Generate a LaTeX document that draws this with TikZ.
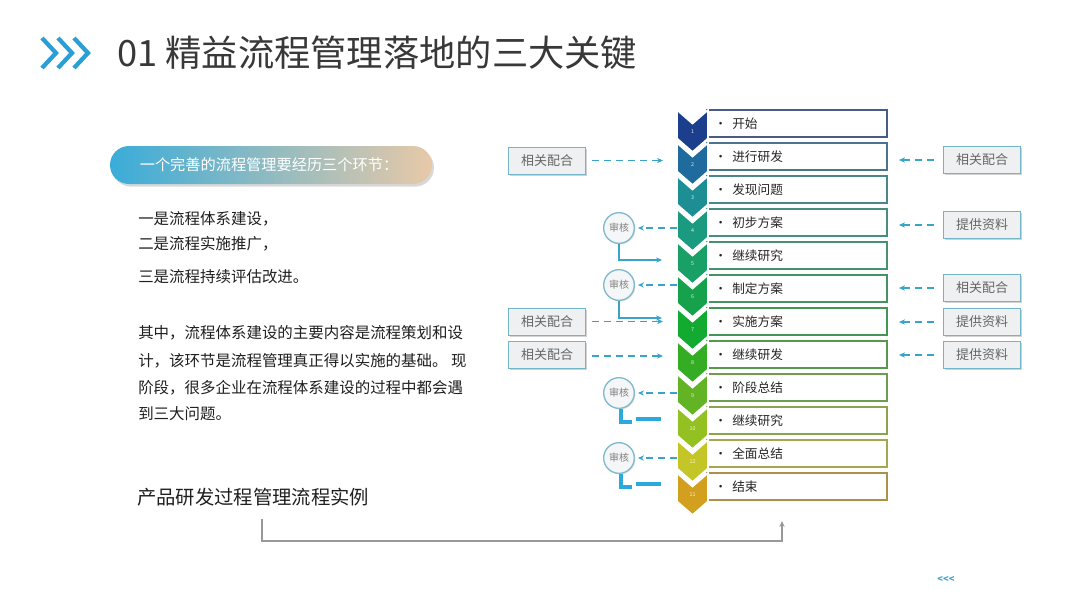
\documentclass[tikz,border=0pt]{standalone}
\usepackage{fontspec}
\setmainfont{Noto Sans CJK SC}
\usetikzlibrary{calc,shadows,arrows.meta}
\definecolor{c1}{HTML}{1B3F8C}
\definecolor{c2}{HTML}{1F6B9E}
\definecolor{c3}{HTML}{1D8E94}
\definecolor{c4}{HTML}{1A9A7E}
\definecolor{c5}{HTML}{18A066}
\definecolor{c6}{HTML}{16A24C}
\definecolor{c7}{HTML}{12AA30}
\definecolor{c8}{HTML}{34AD24}
\definecolor{c9}{HTML}{62B424}
\definecolor{c10}{HTML}{93C122}
\definecolor{c11}{HTML}{C4C526}
\definecolor{c12}{HTML}{D29F1E}
\definecolor{tealarrow}{HTML}{3AA3C9}
\definecolor{iconblue}{HTML}{2A9FD6}
\definecolor{sidefill}{HTML}{EEF0F2}
\definecolor{sideedge}{HTML}{72B4C8}
\definecolor{pillL}{HTML}{3AACD9}
\definecolor{pillR}{HTML}{E8C9A8}
\definecolor{lcyan}{HTML}{2BA9DA}
\tikzset{
  rowbox/.style={draw, fill=white, minimum width=135pt, minimum height=20.25pt, inner sep=0pt, line width=0.9pt,
    drop shadow={shadow xshift=0.8pt, shadow yshift=-0.8pt, opacity=0.2}},
  rowtext/.style={anchor=west, inner sep=0pt, font=\fontsize{9.5}{11}\selectfont, text=black!85},
  sidebox/.style={draw=sideedge, fill=sidefill, minimum width=57.75pt, minimum height=20.25pt, inner sep=0pt, line width=0.6pt,
    font=\fontsize{9.75}{11}\selectfont, text=black!60,
    drop shadow={shadow xshift=1.2pt, shadow yshift=-1.2pt, opacity=0.35}},
  audit/.style={circle, draw=sideedge!90, fill=sidefill!60, minimum size=23pt, inner sep=0pt, line width=1pt,
    font=\fontsize{7.5}{9}\selectfont, text=black!50,
    drop shadow={shadow xshift=0.8pt, shadow yshift=-0.8pt, opacity=0.25}},
  dasharrow/.style={draw=tealarrow, line width=0.9pt, dash pattern=on 5.5pt off 3.5pt, -{Stealth[length=4.5pt,width=4pt]}},
  solidarrow/.style={draw=tealarrow, line width=0.9pt, -{Stealth[length=4.5pt,width=4pt]}},
  bigL/.style={draw=lcyan, line width=2.4pt},
  bodytext/.style={anchor=west, inner sep=0pt, font=\fontsize{11.6}{14}\selectfont, text=black!88},
}
\begin{document}
\begin{tikzpicture}[x=0.75pt, y=-0.75pt]
\useasboundingbox (0,0) rectangle (1080,608);
\fill[white] (0,0) rectangle (1080,608);

% title icon
\foreach \x in {42,58,74}{
  \draw[iconblue, line width=3.2pt, line cap=butt, line join=miter] (\x,38) -- (\x+14,53) -- (\x,68);
}
\node[anchor=west, inner sep=0pt, font=\fontsize{27.2}{31}\selectfont, text=black!78] (title) at (117,53) {01 精益流程管理落地的三大关键};

% pill
\node[rounded corners=14.25pt, minimum width=241.5pt, minimum height=28.5pt, inner sep=0pt,
  left color=pillL, right color=pillR,
  drop shadow={shadow xshift=1.5pt, shadow yshift=-2pt, opacity=0.3}] (pill) at (271,165) {};
\node[inner sep=0pt, font=\fontsize{11.4}{13}\selectfont, text=white] (pilltext) at (269,165) {一个完善的流程管理要经历三个环节：};

% left text
\node[bodytext] (l1) at (138,219) {一是流程体系建设，};
\node[bodytext] (l2) at (138,244) {二是流程实施推广，};
\node[bodytext] (l3) at (138,277) {三是流程持续评估改进。};
\node[bodytext] (p1) at (138,333) {其中，流程体系建设的主要内容是流程策划和设};
\node[bodytext] (p2) at (138,361) {计，该环节是流程管理真正得以实施的基础。 现};
\node[bodytext] (p3) at (138,388) {阶段，很多企业在流程体系建设的过程中都会遇};
\node[bodytext] (p4) at (138,414) {到三大问题。};
\node[anchor=west, inner sep=0pt, font=\fontsize{14.5}{17}\selectfont, text=black!88] (example) at (137,497) {产品研发过程管理流程实例};

% rows: boxes and chevrons
\foreach \i/\lab/\num in {1/开始/1,2/进行研发/2,3/发现问题/3,4/初步方案/4,5/继续研究/5,6/制定方案/6,7/实施方案/7,8/继续研发/8,9/阶段总结/9,10/继续研究/10,11/全面总结/12,12/结束/11}{
  \pgfmathsetmacro{\t}{110+33*(\i-1)}
  \node[rowbox, draw=c\i!55!gray] (b\i) at (797,\t+13.5) {};
  \node[rowtext] (bt\i) at (714,\t+13.5) {·\hspace{4pt}\lab};
  \fill[c\i, draw=white, line width=1.3pt, line join=miter]
    (677,\t) -- (692.5,\t+13.5) -- (708,\t) -- (708,\t+28.5) -- (692.5,\t+42) -- (677,\t+28.5) -- cycle;
  \node[inner sep=0pt, font=\fontsize{4}{5}\selectfont, text=white!85!c\i] (n\i) at (692.5,\t+22) {\num};
  \coordinate (cl\i) at (663,\t+13.5);
  \coordinate (cr\i) at (899,\t+13.5);
  \coordinate (cc\i) at (677,\t+13.5);
}

% left side boxes
\node[sidebox] (lb2) at (547,160.5) {相关配合};
\node[sidebox] (lb7) at (547,321.5) {相关配合};
\node[sidebox] (lb8) at (547,355) {相关配合};
\draw[dasharrow] ($(lb2.east)+(6,0)$) -- (lb2.east -| cl2);
\draw[dasharrow] ($(lb7.east)+(6,0)$) -- (lb7.east -| cl7);
\draw[dasharrow] ($(lb8.east)+(6,1)$) -- ($(lb8.east -| cl8)+(0,1)$);

% right side boxes
\node[sidebox] (rb2) at (982,160) {相关配合};
\node[sidebox] (rb4) at (982,225) {提供资料};
\node[sidebox] (rb6) at (982,288) {相关配合};
\node[sidebox] (rb7) at (982,322) {提供资料};
\node[sidebox] (rb8) at (982,355) {提供资料};
\foreach \k in {2,4,6,7,8}{
  \draw[dasharrow] ($(rb\k.west)+(-9,0)$) -- (rb\k.west -| cr\k);
}

% audit circles
\node[audit] (r4) at (619,228) {审核};
\node[audit] (r6) at (619,285) {审核};
\node[audit] (r9) at (619,393) {审核};
\node[audit] (r11) at (619,458) {审核};
\draw[dasharrow] (r4.east -| cc4) -- ($(r4.east)+(3,0)$);
\draw[dasharrow] (r6.east -| cc6) -- ($(r6.east)+(3,0)$);
\draw[dasharrow] (r9.east -| cc9) -- ($(r9.east)+(3,0)$);
\draw[dasharrow] (r11.east -| cc11) -- ($(r11.east)+(3,0)$);

\coordinate (t5) at (662,260);
\coordinate (t7) at (662,318);
\draw[solidarrow] (r4.south) |- (t5);
\draw[solidarrow] (r6.south) |- (t7);

% thick L marks
\coordinate (f9) at (632,422);
\coordinate (f11) at (632,487);
\draw[bigL] ($(r9.south)+(2,0)$) |- (f9);
\draw[bigL] ($(r11.south)+(2,0)$) |- (f11);
\coordinate (g9a) at (636,419);
\coordinate (g9b) at (661,419);
\coordinate (g11a) at (636,484);
\coordinate (g11b) at (661,484);
\draw[bigL] (g9a) -- (g9b);
\draw[bigL] (g11a) -- (g11b);

% bottom connector
\coordinate (bs) at (262,519);
\coordinate (be) at (782,521);
\draw[draw=black!40, line width=1pt, -{Stealth[length=4.5pt,width=4pt]}] (bs) |- (782,541) -- (be);

% corner mark
\node[inner sep=0pt, font=\fontsize{7}{8}\selectfont\bfseries, text=tealarrow] (back) at (946,579) {{<}{<}{<}};
\end{tikzpicture}
\end{document}
